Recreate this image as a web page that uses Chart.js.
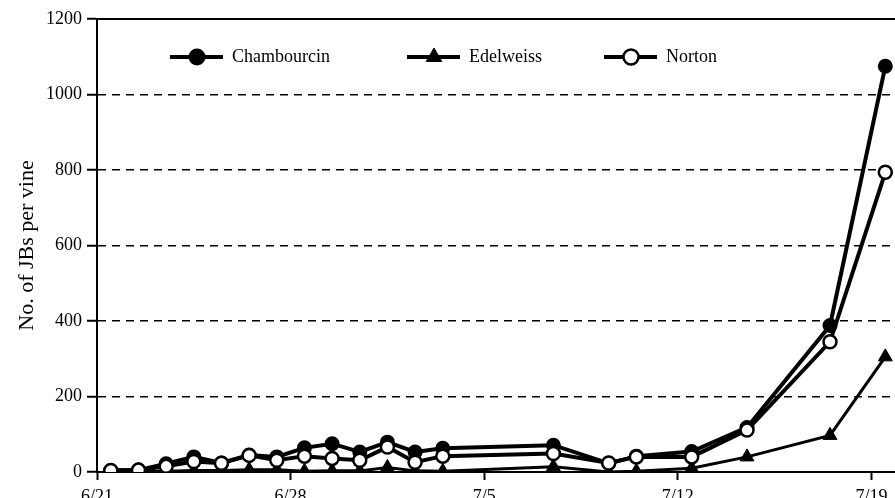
<!DOCTYPE html>
<html lang="en">
<head>
  <meta charset="UTF-8" />
  <title>JBs per vine</title>
  <script src="https://cdn.jsdelivr.net/npm/chart.js"></script>
  <style>
    html, body { margin: 0; padding: 0; background: #fff; overflow: hidden; }
    .grafico { position: relative; width: 895px; height: 498px; }
  </style>
</head>
<body>
  <div class="grafico">
    <canvas id="myChart"></canvas>
  </div>
<script>
  // dias contados a partir de 6/21 (datas de amostragem)
  const dias = [0.5, 1.5, 2.5, 3.5, 4.5, 5.5, 6.5, 7.5, 8.5, 9.5, 10.5, 11.5, 12.5,
    16.5, 18.5, 19.5, 21.5, 23.5, 26.5, 28.5];
  const chambourcin = [4, 5, 22, 40, 24, 45, 40, 64, 75, 53, 79, 53, 63,
    71, 23, 42, 54, 118, 388, 1075];
  const edelweiss = [0, 1, 2, 4, 4, 6, 6, 2, 3, 3, 12, 3, 2,
    14, 0, 2, 10, 40, 97, 305];
  const norton = [4, 5, 15, 28, 23, 44, 31, 42, 36, 31, 66, 26, 42,
    49, 24, 40, 40, 111, 345, 794];

  const tickDias = [0, 7, 14, 21, 28];
  const tickLabels = ['6/21', '6/28', '7/5', '7/12', '7/19'];
  const yTicks = [0, 200, 400, 600, 800, 1000, 1200];
  const xMax = 28.85;

  const fonte = { family: "'Liberation Serif', 'Times New Roman', serif", size: 18 };

  function pontos(valores) {
    return dias.map(function (d, i) { return { x: d, y: valores[i] }; });
  }

  // legenda desenhada dentro da area do grafico
  const legendaPlugin = {
    id: 'legendaInterna',
    afterDraw(chart) {
      const ctx = chart.ctx;
      const itens = [
        { ds: 1, x: 170 },
        { ds: 2, x: 407 },
        { ds: 0, x: 604 }
      ];
      const y = 57;
      ctx.save();
      itens.forEach(function (item) {
        const ds = chart.data.datasets[item.ds];
        ctx.strokeStyle = '#000';
        ctx.lineWidth = 4;
        ctx.beginPath();
        ctx.moveTo(item.x, y);
        ctx.lineTo(item.x + 53, y);
        ctx.stroke();
        ctx.fillStyle = ds.pointBackgroundColor;
        ctx.strokeStyle = '#000';
        ctx.lineWidth = ds.pointBorderWidth;
        Chart.helpers.drawPoint(ctx, {
          pointStyle: ds.pointStyle,
          radius: ds.pointStyle === 'triangle' ? 9 : 7.5,
          borderWidth: ds.pointBorderWidth,
          rotation: 0
        }, item.x + 27, y);
        ctx.fillStyle = '#000';
        ctx.font = "18px 'Liberation Serif', serif";
        ctx.textBaseline = 'middle';
        ctx.textAlign = 'left';
        ctx.fillText(ds.label, item.x + 62, y);
      });
      ctx.restore();
    }
  };

  const dados = {
    datasets: [{
      label: 'Norton',
      data: pontos(norton),
      borderColor: '#000',
      borderWidth: 4,
      pointStyle: 'circle',
      pointRadius: 6.5,
      pointBackgroundColor: '#fff',
      pointBorderColor: '#000',
      pointBorderWidth: 2.5,
      order: 0
    },
    {
      label: 'Chambourcin',
      data: pontos(chambourcin),
      borderColor: '#000',
      borderWidth: 4,
      pointStyle: 'circle',
      pointRadius: 6.5,
      pointBackgroundColor: '#000',
      pointBorderColor: '#000',
      pointBorderWidth: 2,
      order: 2
    },
    {
      label: 'Edelweiss',
      data: pontos(edelweiss),
      borderColor: '#000',
      borderWidth: 3,
      pointStyle: 'triangle',
      pointRadius: 8,
      pointBackgroundColor: '#000',
      pointBorderColor: '#000',
      pointBorderWidth: 1,
      order: 1
    }]
  };

  const config = {
    type: 'line',
    data: dados,
    options: {
      responsive: true,
      maintainAspectRatio: false,
      animation: false,
      layout: { autoPadding: false, padding: { top: 19, left: 0, right: 0, bottom: 0 } },
      plugins: {
        legend: { display: false },
        tooltip: { enabled: false }
      },
      scales: {
        x: {
          type: 'linear',
          position: 'bottom',
          min: 0,
          max: xMax,
          afterBuildTicks: function (s) { s.ticks = tickDias.map(function (v) { return { value: v }; }); },
          afterFit: function (s) { s.height = 26; s.paddingLeft = 0; s.paddingRight = 0; },
          ticks: {
            font: fonte,
            color: '#000',
            padding: 6,
            maxRotation: 0,
            autoSkip: false,
            callback: function (v) { return tickLabels[tickDias.indexOf(v)]; }
          },
          grid: {
            drawOnChartArea: false,
            drawTicks: true,
            tickLength: 8,
            tickColor: '#000',
            tickWidth: 2
          },
          border: { display: true, color: '#000', width: 2 }
        },
        xTopo: {
          type: 'linear',
          position: 'top',
          display: true,
          min: 0,
          max: xMax,
          afterFit: function (s) { s.height = 0; s.paddingLeft = 0; s.paddingRight = 0; },
          ticks: { display: false },
          grid: { display: false, drawTicks: false },
          border: { display: true, color: '#000', width: 2 }
        },
        y: {
          min: 0,
          max: 1200,
          afterBuildTicks: function (s) { s.ticks = yTicks.map(function (v) { return { value: v }; }); },
          afterFit: function (s) { s.width = 97; },
          ticks: {
            font: fonte,
            color: '#000',
            padding: 5,
            callback: function (v) { return String(v); }
          },
          grid: {
            color: function (c) {
              return (c.tick && (c.tick.value === 0 || c.tick.value === 1200)) ? 'rgba(0,0,0,0)' : '#000';
            },
            lineWidth: 1.5,
            tickColor: '#000',
            tickLength: 10,
            tickWidth: 2
          },
          border: { display: true, color: '#000', width: 2, dash: [8, 6] },
          title: {
            display: true,
            text: 'No. of JBs per vine',
            font: { family: fonte.family, size: 22 },
            color: '#000',
            padding: { top: 14, bottom: 0 }
          }
        }
      }
    },
    plugins: [legendaPlugin]
  };

  let myChart = new Chart(document.getElementById('myChart'), config);
</script>
</body>
</html>
